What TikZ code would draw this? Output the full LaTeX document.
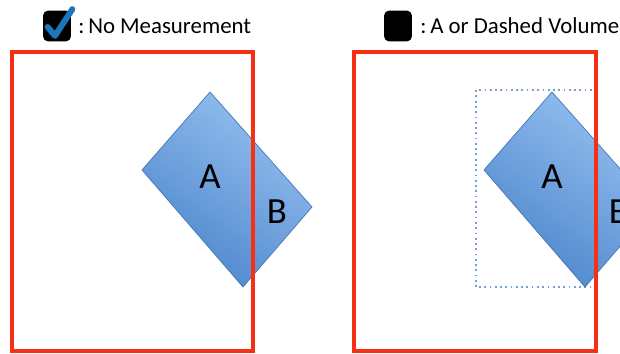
\documentclass[tikz,border=0pt]{standalone}
\usepackage{fontspec}
\setmainfont{Carlito}
\usetikzlibrary{positioning, calc}

\definecolor{boxred}{RGB}{245,48,20}
\definecolor{shapeblue}{RGB}{76,134,204}
\definecolor{shapelight}{RGB}{150,192,240}
\definecolor{shapeedge}{RGB}{70,118,180}
\definecolor{dotblue}{RGB}{120,160,205}
\definecolor{tickblue}{RGB}{28,118,188}

\begin{document}
\begin{tikzpicture}[
    x=0.02cm, y=0.02cm,
    frame/.style={draw=boxred, line width=2pt},
    volume/.style={draw=shapeedge, line width=0.4pt, top color=shapelight, bottom color=shapeblue, shading angle=-35},
    dotbox/.style={draw=dotblue, line width=1pt, dotted},
    letter/.style={font=\fontsize{21}{24}\selectfont},
    legend/.style={anchor=west, inner sep=0pt, font=\fontsize{13}{15}\selectfont},
    icon/.style={rectangle, rounded corners=3pt, fill=black, minimum width=0.56cm, minimum height=0.62cm, inner sep=0pt}
]
    \useasboundingbox (0,0) rectangle (620,353);
    \clip (0,0) rectangle (620,353);

    % legend
    \node[icon] (tickicon) at (57,327) {};
    \draw[tickblue, line width=3.4pt, line cap=round, line join=round]
        ($(tickicon.west)+(5,-1)$) -- ($(tickicon.south)+(-2,6)$) -- ($(tickicon.north east)+(1,1)$);
    \node[legend] (nomeas) at (78,327) {:\,No Measurement};

    \node[icon] (blackicon) at (398,327) {};
    \node[legend] (dashvol) at (420,327) {:\,A or Dashed Volume};

    % left panel
    \shade[volume] (210,261) -- (312,146) -- (243,66) -- (142,183) -- cycle;
    \node[letter] (leftA) at (210,176) {A};
    \node[letter] (leftB) at (277,141) {B};
    \draw[frame] (12,2) rectangle (253,301);

    % right panel
    \draw[dotbox] (476,66) rectangle (595,263);
    \shade[volume] (552,261) -- (654,146) -- (585,66) -- (484,183) -- cycle;
    \node[letter] (rightA) at (552,176) {A};
    \node[letter] (rightB) at (619,141) {B};
    \draw[frame] (354,2) rectangle (596,301);
\end{tikzpicture}
\end{document}
